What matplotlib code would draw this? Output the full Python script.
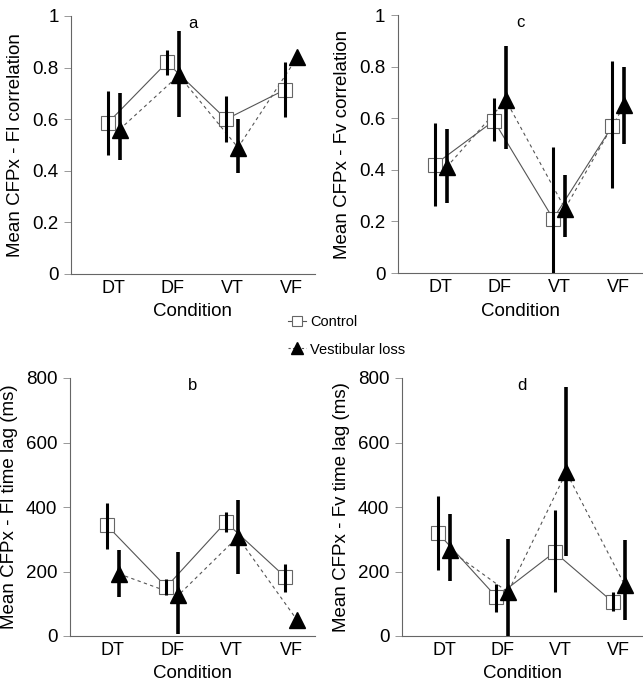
import numpy as np
import matplotlib.pyplot as plt
from matplotlib.lines import Line2D

plt.rcParams["font.family"] = ["Liberation Sans", "DejaVu Sans"]

CONDITIONS = ["DT", "DF", "VT", "VF"]

# panel a: CFPx - Fl correlation
a_ctrl = [0.585, 0.82, 0.60, 0.715]
a_ctrl_lo = [0.46, 0.77, 0.51, 0.61]
a_ctrl_hi = [0.71, 0.87, 0.69, 0.82]
a_vest = [0.56, 0.77, 0.49, 0.84]
a_vest_lo = [0.44, 0.61, 0.39, 0.84]
a_vest_hi = [0.70, 0.94, 0.60, 0.84]

# panel c: CFPx - Fv correlation
c_ctrl = [0.42, 0.59, 0.21, 0.57]
c_ctrl_lo = [0.26, 0.51, 0.00, 0.33]
c_ctrl_hi = [0.58, 0.68, 0.49, 0.82]
c_vest = [0.41, 0.67, 0.25, 0.65]
c_vest_lo = [0.27, 0.48, 0.14, 0.50]
c_vest_hi = [0.56, 0.88, 0.38, 0.80]

# panel b: CFPx - Fl time lag (ms)
b_ctrl = [343, 152, 353, 183]
b_ctrl_lo = [271, 126, 322, 136]
b_ctrl_hi = [412, 178, 385, 224]
b_vest = [193, 126, 307, 49]
b_vest_lo = [121, 7, 193, 49]
b_vest_hi = [268, 260, 423, 49]

# panel d: CFPx - Fv time lag (ms)
d_ctrl = [319, 121, 260, 105]
d_ctrl_lo = [206, 74, 136, 78]
d_ctrl_hi = [433, 162, 390, 136]
d_vest = [266, 136, 508, 159]
d_vest_lo = [171, 0, 248, 49]
d_vest_hi = [377, 300, 771, 299]

W, H = 643, 686
fig = plt.figure(figsize=(W / 100, H / 100), dpi=100)


def make_ax(l, r, t, b):
    return fig.add_axes([l / W, 1 - b / H, (r - l) / W, (b - t) / H])


def panel(ax, letter, ylabel, ymax, yticks, yticklabels, ctrl, vest):
    x = np.arange(len(CONDITIONS))
    xc = x - 0.1
    xv = x + 0.1
    m, lo, hi = ctrl
    ax.plot(xc, m, "-", color="#555555", lw=0.8, zorder=2)
    ax.plot(xc, m, "s", ms=9.5, mfc="white", mec="#666666", mew=0.8, zorder=3)
    ax.vlines(xc, lo, hi, color="black", lw=2.2, zorder=4)
    m, lo, hi = vest
    ax.plot(xv, m, "--", color="#555555", lw=0.8, dashes=(3, 3), zorder=2)
    ax.vlines(xv, lo, hi, color="black", lw=2.6, zorder=4)
    ax.plot(xv, m, "^", ms=12, color="black", zorder=5)

    ax.set_xlim(-0.72, 3.4)
    ax.set_ylim(0, ymax)
    ax.set_yticks(yticks)
    ax.set_yticklabels(yticklabels)
    ax.set_xticks(x)
    ax.set_xticklabels(CONDITIONS)
    ax.tick_params(axis="x", length=0, labelsize=13, pad=4)
    ax.tick_params(axis="y", direction="out", length=5, width=0.6,
                   color="#888888", labelsize=13.5, pad=4)
    for s in ("top", "right"):
        ax.spines[s].set_visible(False)
    for s in ("left", "bottom"):
        ax.spines[s].set_linewidth(0.8)
        ax.spines[s].set_color("#666666")
    ax.set_ylabel(ylabel, fontsize=13.5, labelpad=6)
    ax.set_xlabel("Condition", fontsize=13.5, labelpad=5)
    ax.text(0.5, 0.97, letter, transform=ax.transAxes, ha="center",
            va="center", fontsize=12)


corr_ticks = [0, 0.2, 0.4, 0.6, 0.8, 1]
corr_labels = ["0", "0.2", "0.4", "0.6", "0.8", "1"]
lag_ticks = [0, 200, 400, 600, 800]
lag_labels = ["0", "200", "400", "600", "800"]

ax_a = make_ax(71, 315, 16, 274)
panel(ax_a, "a", "Mean CFPx - Fl correlation", 1, corr_ticks, corr_labels,
      (a_ctrl, a_ctrl_lo, a_ctrl_hi), (a_vest, a_vest_lo, a_vest_hi))

ax_c = make_ax(398, 642, 15, 273)
panel(ax_c, "c", "Mean CFPx - Fv correlation", 1, corr_ticks, corr_labels,
      (c_ctrl, c_ctrl_lo, c_ctrl_hi), (c_vest, c_vest_lo, c_vest_hi))

ax_b = make_ax(70, 315, 378, 636)
panel(ax_b, "b", "Mean CFPx - Fl time lag (ms)", 800, lag_ticks, lag_labels,
      (b_ctrl, b_ctrl_lo, b_ctrl_hi), (b_vest, b_vest_lo, b_vest_hi))

ax_d = make_ax(402, 642, 378, 636)
panel(ax_d, "d", "Mean CFPx - Fv time lag (ms)", 800, lag_ticks, lag_labels,
      (d_ctrl, d_ctrl_lo, d_ctrl_hi), (d_vest, d_vest_lo, d_vest_hi))

handles = [
    Line2D([], [], ls="-", color="#555555", lw=0.8, marker="s", ms=7.5,
           mfc="white", mec="#666666", mew=0.8),
    Line2D([], [], ls="--", color="#555555", lw=0.8, dashes=(2, 2),
           marker="^", ms=8.5, mfc="black", mec="black"),
]
fig.legend(handles, ["Control", "Vestibular loss"], loc="center left",
           bbox_to_anchor=(275 / W, 1 - 336 / H), frameon=False,
           fontsize=10.5, handlelength=1.2, handletextpad=0.3,
           labelspacing=0.9)

fig.savefig("out.png", dpi=100)
